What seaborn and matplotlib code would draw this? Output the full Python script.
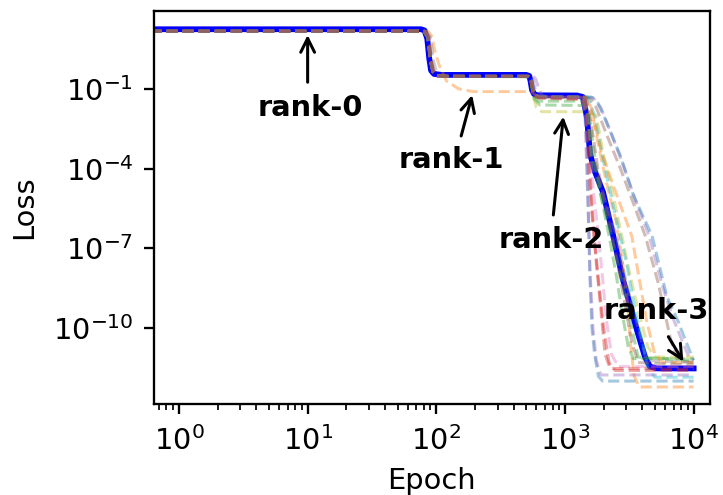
import matplotlib
matplotlib.use("Agg")
import matplotlib.pyplot as plt
import matplotlib.ticker as mticker
import numpy as np
import pandas as pd
import seaborn as sns

# ---- main (solid) run ----
main_epoch = [0.6, 76, 81, 85, 88, 91, 96, 110, 500, 528, 540, 555, 575, 610,
              1240, 1380, 1484, 1566, 1713, 1977, 2362, 2826, 3634, 4190, 4580, 5200, 10000]
main_loss = [17.8, 17.8, 16, 8, 1.5, 0.5, 0.37, 0.34, 0.34, 0.31, 0.2, 0.09, 0.065, 0.058,
             0.057, 0.05, 0.008, 3.6e-4, 7.5e-5, 1.3e-5, 3.2e-7, 6.5e-9, 8e-11, 8e-12, 3.5e-12, 3e-12, 3e-12]

# ---- dashed runs ----
r00_x = [0.6, 80, 86, 90, 94, 100, 120, 520, 540, 556, 578, 620,
         1300, 1400, 1460, 1510, 1560, 1620, 1700, 1820, 1960, 10000]
r00_y = [15, 15, 9, 1.2, 0.45, 0.32, 0.3, 0.3, 0.25, 0.12, 0.06, 0.048,
         0.045, 0.035, 0.005, 1e-5, 1e-8, 1e-10, 1e-11, 1.5e-12, 1e-12, 1e-12]
r01_x = [0.6, 86, 92, 97, 105, 120, 150, 193, 540, 565, 600, 640,
         1450, 1600, 1800, 2100, 2500, 2800, 3050, 3250, 3450, 3800, 10000]
r01_y = [15, 15, 10, 3, 0.8, 0.2, 0.1, 0.08, 0.08, 0.07, 0.055, 0.05,
         0.048, 0.02, 1e-3, 3e-5, 1e-6, 3e-8, 1e-9, 2e-11, 1.5e-12, 6e-13, 6e-13]
r02_x = [0.6, 80, 86, 90, 94, 100, 120, 520, 540, 556, 578, 640,
         1400, 1550, 1700, 1900, 2200, 2500, 2800, 3100, 3400, 10000]
r02_y = [15, 15, 9, 1.2, 0.45, 0.32, 0.3, 0.29, 0.24, 0.1, 0.04, 0.025,
         0.024, 0.01, 3e-4, 1e-5, 3e-7, 1e-8, 3e-10, 2e-11, 7e-12, 7e-12]
r03_x = [0.6, 81, 87, 91, 95, 101, 120, 520, 540, 556, 578, 620,
         1350, 1450, 1520, 1600, 1700, 1850, 2000, 2200, 2450, 10000]
r03_y = [15, 15, 9, 1.2, 0.45, 0.32, 0.3, 0.3, 0.25, 0.12, 0.06, 0.048,
         0.045, 0.03, 2e-3, 1e-5, 2e-7, 3e-9, 1e-10, 5e-12, 2.5e-12, 2.5e-12]
r04_x = [0.6, 82, 88, 92, 96, 102, 125, 560, 590, 620, 660, 720,
         1650, 1900, 2300, 2900, 3600, 4500, 5800, 7000, 8200, 9200, 10000]
r04_y = [15, 15, 9, 1.2, 0.45, 0.32, 0.3, 0.3, 0.25, 0.12, 0.06, 0.05,
         0.048, 0.02, 2e-3, 1e-4, 5e-6, 3e-7, 3e-9, 2e-10, 3e-11, 8e-12, 6e-12]
r05_x = [0.6, 80, 86, 90, 94, 100, 120, 530, 550, 566, 588, 630,
         1550, 1750, 2100, 2700, 3400, 4200, 5300, 6600, 7500, 10000]
r05_y = [15, 15, 9, 1.2, 0.45, 0.32, 0.3, 0.3, 0.25, 0.12, 0.06, 0.048,
         0.045, 0.02, 2e-3, 1e-4, 5e-6, 3e-7, 5e-9, 4e-11, 6e-12, 5e-12]
r06_x = [0.6, 80, 86, 90, 94, 100, 120, 520, 540, 556, 578, 620,
         1400, 1480, 1550, 1650, 1800, 1950, 2100, 2300, 2600, 10000]
r06_y = [15, 15, 9, 1.2, 0.45, 0.32, 0.3, 0.3, 0.25, 0.12, 0.06, 0.048,
         0.045, 0.02, 2e-3, 2e-5, 5e-7, 1e-8, 2e-10, 1e-11, 3.5e-12, 3.5e-12]
r07_x = [0.6, 83, 90, 95, 100, 106, 125, 525, 545, 560, 582, 625,
         1400, 1500, 1620, 1900, 2500, 3000, 3700, 4300, 10000]
r07_y = [15, 15, 9, 1.2, 0.45, 0.32, 0.3, 0.3, 0.25, 0.12, 0.06, 0.05,
         0.05, 0.01, 3e-4, 2e-5, 3e-7, 5e-9, 1e-10, 6e-12, 5e-12]
r08_x = [0.6, 80, 86, 90, 94, 100, 120, 520, 545, 565, 600, 660,
         1500, 1750, 2000, 2300, 2700, 3200, 3800, 4400, 5000, 10000]
r08_y = [15, 15, 9, 1.2, 0.45, 0.32, 0.3, 0.29, 0.22, 0.06, 0.02, 0.014,
         0.014, 0.01, 3e-4, 2e-5, 5e-7, 1e-8, 3e-10, 2e-11, 8e-12, 8e-12]
r09_x = [0.6, 80, 86, 90, 94, 100, 120, 530, 550, 566, 588, 630,
         1500, 1700, 1950, 2400, 3000, 3500, 4000, 4400, 5000, 10000]
r09_y = [15, 15, 9, 1.2, 0.45, 0.32, 0.3, 0.3, 0.25, 0.12, 0.06, 0.05,
         0.05, 0.01, 3e-4, 3e-6, 3e-8, 5e-10, 3e-11, 3e-12, 1.4e-12, 1.4e-12]
r10_x = [0.6, 80, 86, 90, 94, 100, 120, 520, 540, 556, 578, 620,
         1600, 1800, 2000, 2700, 3400, 4750, 6200, 7500, 8600, 10000]
r10_y = [15, 15, 9, 1.2, 0.45, 0.32, 0.3, 0.3, 0.25, 0.12, 0.06, 0.05,
         0.05, 0.03, 0.01, 3e-4, 1e-5, 3e-7, 1.5e-9, 2e-10, 3.6e-11, 6e-12]
r11_x = [0.6, 80, 86, 90, 94, 100, 120, 520, 540, 556, 578, 620,
         1450, 1650, 1900, 2400, 3300, 4300, 5000, 5800, 10000]
r11_y = [15, 15, 9, 1.2, 0.45, 0.32, 0.3, 0.3, 0.25, 0.12, 0.06, 0.05,
         0.05, 0.01, 5e-4, 2e-5, 3e-7, 2e-10, 1e-11, 5e-12, 5e-12]
r12_x = [0.6, 80, 86, 90, 94, 100, 120, 520, 540, 556, 578, 620,
         1380, 1500, 1620, 1900, 2300, 2800, 3300, 3700, 10000]
r12_y = [15, 15, 9, 1.2, 0.45, 0.32, 0.3, 0.3, 0.25, 0.1, 0.05, 0.035,
         0.035, 0.01, 2e-4, 1e-5, 3e-7, 5e-9, 1e-10, 8e-12, 6e-12]
r13_x = [0.6, 81, 87, 91, 95, 101, 120, 520, 540, 556, 578, 620,
         1380, 1460, 1530, 1620, 1750, 1900, 2050, 2250, 10000]
r13_y = [15, 15, 9, 1.2, 0.45, 0.32, 0.3, 0.3, 0.25, 0.12, 0.06, 0.045,
         0.04, 0.01, 1e-4, 2e-6, 3e-8, 5e-10, 1e-11, 3e-12, 2.8e-12]
r14_x = [0.6, 80, 86, 90, 94, 100, 120, 540, 560, 580, 610, 660,
         1350, 1430, 1500, 1570, 1650, 1750, 1900, 10000]
r14_y = [15, 15, 9, 1.2, 0.45, 0.32, 0.3, 0.3, 0.25, 0.12, 0.06, 0.05,
         0.05, 0.01, 1e-5, 1e-8, 1e-10, 6e-12, 1.7e-12, 1.7e-12]
r15_x = [0.6, 80, 86, 90, 94, 100, 120, 520, 540, 556, 578, 620,
         1450, 1600, 1800, 2100, 2500, 2900, 3300, 3700, 10000]
r15_y = [15, 15, 9, 1.2, 0.45, 0.32, 0.3, 0.3, 0.25, 0.12, 0.06, 0.05,
         0.05, 5e-3, 1e-4, 3e-6, 5e-8, 1e-9, 3e-11, 5e-12, 4e-12]

runs = [(r00_x, r00_y), (r01_x, r01_y), (r02_x, r02_y), (r03_x, r03_y),
        (r04_x, r04_y), (r05_x, r05_y), (r06_x, r06_y), (r07_x, r07_y),
        (r08_x, r08_y), (r09_x, r09_y), (r10_x, r10_y), (r11_x, r11_y),
        (r12_x, r12_y), (r13_x, r13_y), (r14_x, r14_y), (r15_x, r15_y)]

# annotations: label, text position, arrow tail, arrow tip
ann_labels = ["rank-0", "rank-1", "rank-2", "rank-3"]
ann_text_xy = [(10.4, 0.0096), (132, 1.03e-4), (779, 1.0e-7), (5100, 2.1e-10)]
ann_tail_xy = [(10, 0.18), (156, 1.7e-3), (812, 1.8e-6), (6360, 4.7e-11)]
ann_tip_xy = [(10, 10.8), (190, 0.059), (971, 9.1e-3), (8320, 5.4e-12)]

y_ticks = [1e-1, 1e-4, 1e-7, 1e-10]

# ---- build long-form table ----
rows = []
for i, (xs, ys) in enumerate(runs):
    for x, y in zip(xs, ys):
        rows.append({"run": f"run{i:02d}", "epoch": x, "loss": y})
df = pd.DataFrame(rows)
order = [f"run{i:02d}" for i in range(len(runs))]
tab10 = sns.color_palette("tab10")
pal = [tab10[i % 10] for i in range(len(runs))]

W, H, DPI = 723, 495, 208
fig = plt.figure(figsize=(W / DPI, H / DPI), dpi=DPI)
ax = fig.add_axes([153.5 / W, 1 - 404 / H, (710 - 153.5) / W, (404 - 11) / H])
ax.set_xscale("log")
ax.set_yscale("log")

sns.lineplot(x=main_epoch, y=main_loss, color="blue", linewidth=2.0,
             estimator=None, sort=False, ax=ax, zorder=2)
sns.lineplot(data=df, x="epoch", y="loss", hue="run", hue_order=order,
             palette=pal, estimator=None, sort=False, linestyle="--",
             linewidth=1.05, alpha=0.4, legend=False, ax=ax, zorder=2.1)

for lab, txy, tail, tip in zip(ann_labels, ann_text_xy, ann_tail_xy, ann_tip_xy):
    ax.annotate("", xy=tip, xytext=tail,
                arrowprops=dict(arrowstyle="->", lw=1.05, color="black",
                                shrinkA=0, shrinkB=0, mutation_scale=12))
    ax.text(txy[0], txy[1], lab, ha="center", va="baseline",
            fontsize=10, fontweight="bold", color="black", zorder=5)

ax.set_xlim(0.634, 13400)
ax.set_ylim(1.37e-13, 86.7)
ax.set_yticks(y_ticks)
ax.yaxis.set_minor_locator(mticker.NullLocator())
ax.tick_params(axis="both", which="major", labelsize=10)
ax.tick_params(axis="x", which="both", pad=4.0)
ax.set_xlabel("Epoch", fontsize=10, labelpad=4)
ax.set_ylabel("Loss", fontsize=10, labelpad=5)

fig.savefig("out.png", dpi=DPI)
